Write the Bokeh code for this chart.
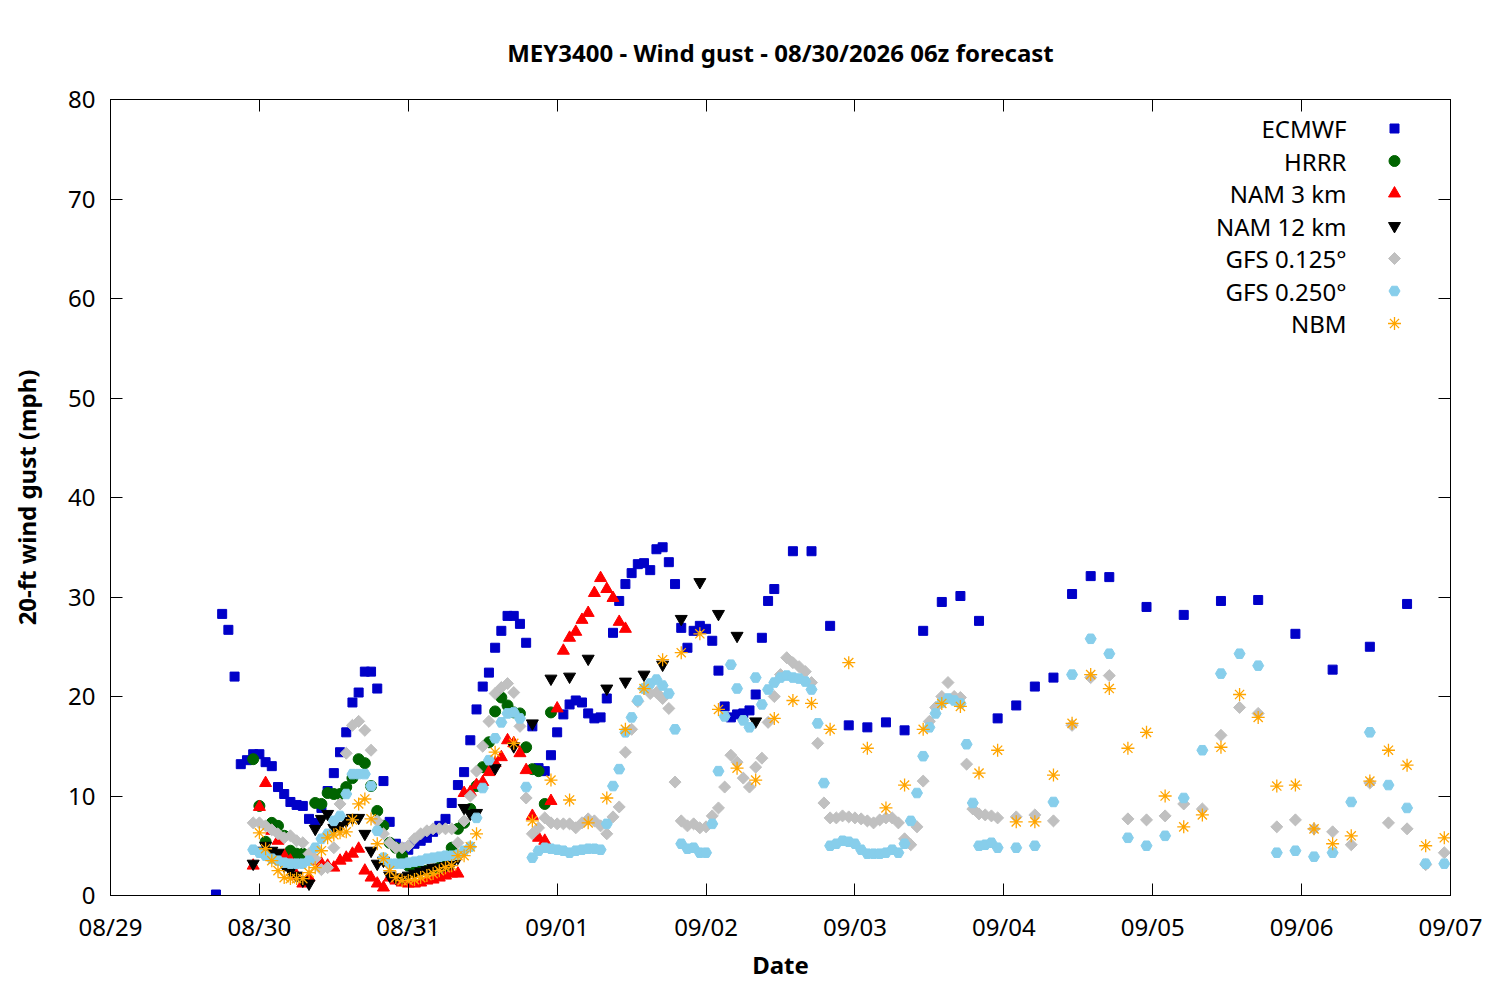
from math import pi
from bokeh.plotting import figure
from bokeh.models import Range1d, LinearAxis, FixedTicker
from bokeh.core.properties import value
from bokeh.embed import file_html
from bokeh.resources import INLINE

FONT = "Noto Sans"

# ---------------- axis ticks ----------------
day_hours = [0, 24, 48, 72, 96, 120, 144, 168, 192, 216]
day_labels = ["08/29", "08/30", "08/31", "09/01", "09/02", "09/03", "09/04", "09/05", "09/06", "09/07"]
y_ticks = [0, 10, 20, 30, 40, 50, 60, 70, 80]

# ---------------- data (hours after 08/29 00, gust mph) ----------------
ecmwf_1h_start = 17
ecmwf_1h = [0.1, 28.3, 26.7, 22.0, 13.2, 13.6, 14.2, 14.2, 13.4, 13.0, 10.9, 10.2, 9.4, 9.1, 9.0, 7.7,
            7.3, 8.8, 10.5, 12.3, 14.4, 16.4, 19.4, 20.4, 22.5, 22.5, 20.8, 11.5, 7.4, 5.2, 4.8, 4.6,
            5.2, 5.5, 5.8, 6.4, 7.0, 7.7, 9.3, 11.1, 12.4, 15.6, 18.7, 21.0, 22.4, 24.9, 26.6, 28.1,
            28.1, 27.3, 25.4, 17.0, 12.8, 12.5, 14.1, 16.4, 18.2, 19.2, 19.6, 19.4, 18.3, 17.8, 17.9,
            19.8, 26.4, 29.6, 31.3, 32.4, 33.3, 33.4, 32.7, 34.8, 35.0, 33.5, 31.3, 26.9, 24.9, 26.6,
            27.1, 26.8, 25.6, 22.6, 19.0, 17.9, 18.2, 18.3, 18.6, 20.2, 25.9, 29.6, 30.8]
ecmwf_3h_start = 110
ecmwf_3h = [34.6, 34.6, 27.1, 17.1, 16.9, 17.4, 16.6, 26.6, 29.5, 30.1, 27.6, 17.8, 19.1, 21.0,
            21.9, 30.3, 32.1, 32.0]
ecmwf_6h_start = 167
ecmwf_6h = [29.0, 28.2, 29.6, 29.7, 26.3, 22.7, 25.0, 29.3]

hrrr_start = 23
hrrr = [13.7, 9.0, 5.4, 7.3, 7.0, 6.0, 4.5, 4.2, 4.2, 4.0, 9.3, 9.2, 10.3, 10.2, 10.2, 10.9, 11.8,
        13.7, 13.3, 11.0, 8.5, 7.0, 5.3, 4.8, 4.0, 3.0, 2.6, 2.5, 2.5, 2.6, 2.8, 3.0, 4.8, 6.7, 7.3,
        8.7, 11.0, 12.9, 15.4, 18.5, 19.9, 19.1, 18.4, 18.3, 14.9, 12.7, 12.5, 9.2, 18.4]

nam3_start = 23
nam3 = [3.0, 8.9, 11.3, 6.5, 5.5, 4.0, 3.5, 2.0, 1.2, 1.8, 3.5, 3.2, 3.0, 2.8, 3.5, 3.8, 4.2, 4.7,
        2.5, 1.8, 1.2, 0.8, 1.8, 1.5, 1.3, 1.2, 1.2, 1.3, 1.5, 1.6, 1.8, 2.0, 2.2, 2.2, 10.3, 10.4,
        11.1, 11.4, 12.4, 13.3, 13.9, 15.6, 15.3, 14.3, 12.6, 8.0, 5.8, 5.5, 9.5, 18.8, 24.6, 25.9,
        26.5, 27.7, 28.4, 30.4, 31.9, 30.8, 29.9, 27.5, 26.8]

nam12_1h_start = 23
nam12_1h = [3.2, 4.5, 5.0, 4.5, 4.3, 3.0, 2.5, 2.0, 1.5, 1.2, 6.7, 7.7, 8.2, 6.8, 7.0, 7.5, 7.8, 7.8,
            6.2, 4.5, 3.2, 3.5, 2.0, 1.8, 1.8, 2.0, 2.2, 2.4, 2.6, 2.8, 2.8, 3.0, 3.2, 3.8, 8.8, 8.2, 8.3]
nam12_3h_start = 62
nam12_3h = [12.8, 15.0, 17.3, 21.8, 22.0, 23.8, 20.8, 21.5, 22.2, 23.2, 27.8, 31.5, 28.3, 26.1, 17.5]

gfs125_1h_start = 23
gfs125_1h = [7.3, 7.3, 7.0, 6.6, 6.2, 5.8, 6.0, 5.5, 5.3, 4.2, 3.7, 2.6, 2.8, 4.8, 9.2, 14.3, 17.1,
             17.5, 16.6, 14.6, 7.5, 6.2, 5.3, 4.8, 4.8, 5.0, 5.7, 6.2, 6.5, 6.7, 6.7, 6.7, 6.7, 5.3,
             7.5, 10.0, 12.5, 15.0, 17.5, 20.3, 20.9, 21.3, 20.4, 17.0, 9.8, 6.2, 6.8, 7.8, 7.3, 7.2,
             7.2, 7.2, 6.8, 7.3, 7.7, 7.5, 7.0, 6.2, 7.9, 8.9, 14.4, 16.7, 19.5, 20.8, 20.3, 20.4,
             19.8, 18.8, 11.4, 7.5, 7.0, 7.2, 6.8, 6.9, 8.0, 8.8, 10.9, 14.1, 13.4, 11.8, 10.9, 12.9,
             13.8, 17.4, 20.0, 22.2, 23.9, 23.4, 23.0, 22.5, 21.4, 15.3, 9.3, 7.8, 7.8, 8.0, 7.9, 7.8,
             7.7, 7.5, 7.3, 7.6, 7.8, 7.8, 7.3, 5.7, 5.1, 6.9, 11.5, 17.5, 18.9, 20.0, 21.4, 20.0,
             19.9, 13.2, 8.7, 8.2, 8.1, 8.0, 7.8]
gfs125_3h_start = 146
gfs125_3h = [7.9, 8.1, 7.5, 17.1, 21.9, 22.1, 7.7, 7.6, 8.0, 9.2, 8.7, 16.1, 18.9, 18.3, 6.9, 7.6,
             6.7, 6.4, 5.1, 11.3, 7.3, 6.7, 3.1, 4.3]

gfs250_1h_start = 23
gfs250_1h = [4.6, 4.3, 4.0, 3.7, 3.5, 3.3, 3.2, 3.2, 3.2, 3.5, 4.8, 5.7, 6.2, 7.5, 8.0, 10.2, 12.2,
             12.2, 12.2, 11.0, 6.5, 3.8, 3.2, 3.2, 3.2, 3.3, 3.4, 3.5, 3.7, 3.8, 3.9, 4.0, 4.0, 4.1,
             4.5, 4.9, 7.8, 10.8, 13.6, 15.8, 17.4, 18.3, 18.4, 17.8, 10.9, 3.8, 4.5, 4.8, 4.7, 4.6,
             4.5, 4.3, 4.5, 4.6, 4.7, 4.7, 4.6, 7.2, 11.0, 12.7, 16.4, 17.9, 19.6, 20.8, 21.3, 21.7,
             21.1, 20.3, 16.7, 5.2, 4.7, 4.8, 4.3, 4.3, 7.2, 12.5, 18.0, 23.2, 20.8, 17.6, 16.9, 21.9,
             19.2, 20.7, 21.4, 21.9, 22.1, 21.9, 21.8, 21.5, 20.7, 17.3, 11.3, 5.0, 5.2, 5.5, 5.4, 5.2,
             4.6, 4.2, 4.2, 4.2, 4.3, 4.6, 4.3, 5.2, 7.5, 10.3, 14.0, 16.9, 18.3, 19.4, 19.8, 19.6,
             19.3, 15.2, 9.3, 5.0, 5.1, 5.3, 4.8]
gfs250_3h_start = 146
gfs250_3h = [4.8, 5.0, 9.4, 22.2, 25.8, 24.3, 5.8, 5.0, 6.0, 9.8, 14.6, 22.3, 24.3, 23.1, 4.3, 4.5,
             3.9, 4.3, 9.4, 16.4, 11.1, 8.8, 3.2, 3.2]

nbm_1h_start = 24
nbm_1h = [6.3, 4.7, 3.5, 2.5, 1.8, 1.7, 1.7, 1.7, 2.3, 2.8, 4.5, 5.8, 6.1, 6.3, 6.4, 7.6, 9.2, 9.7,
          7.7, 5.2, 3.7, 2.5, 1.8, 1.5, 1.5, 1.6, 1.8, 2.0, 2.2, 2.5, 2.8, 3.0, 4.0, 4.0, 4.9, 6.2]
nbm_3h_start = 62
nbm_3h = [14.4, 15.3, 7.5, 11.6, 9.6, 7.3, 9.8, 16.7, 20.8, 23.7, 24.4, 26.3, 18.7, 12.8, 11.6, 17.8,
          19.6, 19.3, 16.7, 23.4, 14.8, 8.8, 11.1, 16.7, 19.3, 19.0, 12.3, 14.6, 7.4, 7.4, 12.1, 17.3,
          22.2, 20.8, 14.8, 16.4, 10.0, 6.9, 8.1, 14.9, 20.2, 17.9, 11.0, 11.1, 6.7, 5.2, 6.0, 11.5,
          14.6, 13.1, 5.0, 5.8]

series_names = ["ECMWF", "HRRR", "NAM 3 km", "NAM 12 km", "GFS 0.125°", "GFS 0.250°", "NBM"]


def build(*segments):
    xs, ys = [], []
    for start, step, vals in segments:
        xs += [start + step * i for i in range(len(vals))]
        ys += list(vals)
    return xs, ys


series_data = [
    build((ecmwf_1h_start, 1, ecmwf_1h), (ecmwf_3h_start, 3, ecmwf_3h), (ecmwf_6h_start, 6, ecmwf_6h)),
    build((hrrr_start, 1, hrrr)),
    build((nam3_start, 1, nam3)),
    build((nam12_1h_start, 1, nam12_1h), (nam12_3h_start, 3, nam12_3h)),
    build((gfs125_1h_start, 1, gfs125_1h), (gfs125_3h_start, 3, gfs125_3h)),
    build((gfs250_1h_start, 1, gfs250_1h), (gfs250_3h_start, 3, gfs250_3h)),
    build((nbm_1h_start, 1, nbm_1h), (nbm_3h_start, 3, nbm_3h)),
]

styles = [
    dict(marker="square", size=9, fill_color="#0000C8", line_color="#0000C8"),
    dict(marker="circle", size=11, fill_color="#006400", line_color="#006400"),
    dict(marker="triangle", size=12, fill_color="#FF0000", line_color="#FF0000"),
    dict(marker="inverted_triangle", size=12, fill_color="#000000", line_color="#000000"),
    dict(marker="square", size=8.5, angle=pi / 4, fill_color="#C0C0C0", line_color="#C0C0C0"),
    dict(marker="hex", size=11, fill_color="#87CEEB", line_color="#87CEEB"),
    dict(marker="asterisk", size=13, line_color="#FFA500", line_width=1.3),
]

# ---------------- figure ----------------
W, H = 1484, 984
ML, MR, MT, MB = 110, 34, 99, 89
X0, X1, Y0, Y1 = 0, 216, 0, 80
FS = "24px"

p = figure(width=W, height=H, x_range=Range1d(X0, X1), y_range=Range1d(Y0, Y1),
           output_backend="svg", toolbar_location=None,
           min_border_left=ML, min_border_right=MR, min_border_top=MT, min_border_bottom=MB,
           background_fill_color="white", border_fill_color="white")
p.xgrid.visible = False
p.ygrid.visible = False
p.outline_line_color = "black"
p.outline_line_width = 1

p.title.text = "MEY3400 - Wind gust - 08/30/2026 06z forecast"
p.title.align = "center"
p.title.text_font = FONT
p.title.text_font_size = FS
p.title.text_font_style = "bold"
p.title.text_color = "black"
p.title.standoff = 62

for ax in (p.xaxis[0], p.yaxis[0]):
    ax.major_tick_in = 12
    ax.major_tick_out = 0
    ax.minor_tick_in = 0
    ax.minor_tick_out = 0
    ax.axis_line_color = "black"
    ax.major_tick_line_color = "black"
    ax.major_label_text_font = FONT
    ax.major_label_text_font_size = FS
    ax.major_label_text_color = "black"
    ax.axis_label_text_font = FONT
    ax.axis_label_text_font_size = FS
    ax.axis_label_text_font_style = "bold"
    ax.axis_label_text_color = "black"

p.xaxis.ticker = FixedTicker(ticks=day_hours)
p.xaxis.major_label_overrides = {h: lab for h, lab in zip(day_hours, day_labels)}
p.xaxis.major_label_standoff = 14
p.xaxis.axis_label = "Date"
p.xaxis.axis_label_standoff = 2

p.yaxis.ticker = FixedTicker(ticks=y_ticks)
p.yaxis.major_label_standoff = 15
p.yaxis.axis_label = "20-ft wind gust (mph)"
p.yaxis.axis_label_standoff = 22

# mirrored ticks on top and right
top_ax = LinearAxis(ticker=FixedTicker(ticks=day_hours), major_tick_in=12, major_tick_out=0,
                    minor_tick_in=0, minor_tick_out=0, major_label_text_color=None,
                    major_label_text_font_size="1px", major_label_standoff=0)
right_ax = LinearAxis(ticker=FixedTicker(ticks=y_ticks), major_tick_in=12, major_tick_out=0,
                      minor_tick_in=0, minor_tick_out=0, major_label_text_color=None,
                      major_label_text_font_size="1px", major_label_standoff=0)
p.add_layout(top_ax, "above")
p.add_layout(right_ax, "right")

# ---------------- data marks ----------------
for (xs, ys), st in zip(series_data, styles):
    p.scatter(xs, ys, **st)

# ---------------- key (gnuplot style: text then symbol) ----------------
frame_w = W - ML - MR
frame_h = H - MT - MB
hx = (X1 - X0) / frame_w
vy = (Y1 - Y0) / frame_h
key_mark_x = X0 + 1284 * hx
key_text_x = X0 + 1236 * hx
key_rows = [Y1 - (29 + 32.5 * i) * vy for i in range(len(series_names))]

for i, st in enumerate(styles):
    p.scatter([key_mark_x], [key_rows[i]], **st)
p.text(x=[key_text_x] * len(series_names), y=key_rows, text=series_names,
       text_font=value(FONT), text_font_size=FS, text_align="right",
       text_baseline="middle", text_color="black")

open("out.html", "w").write(file_html(p, INLINE))
